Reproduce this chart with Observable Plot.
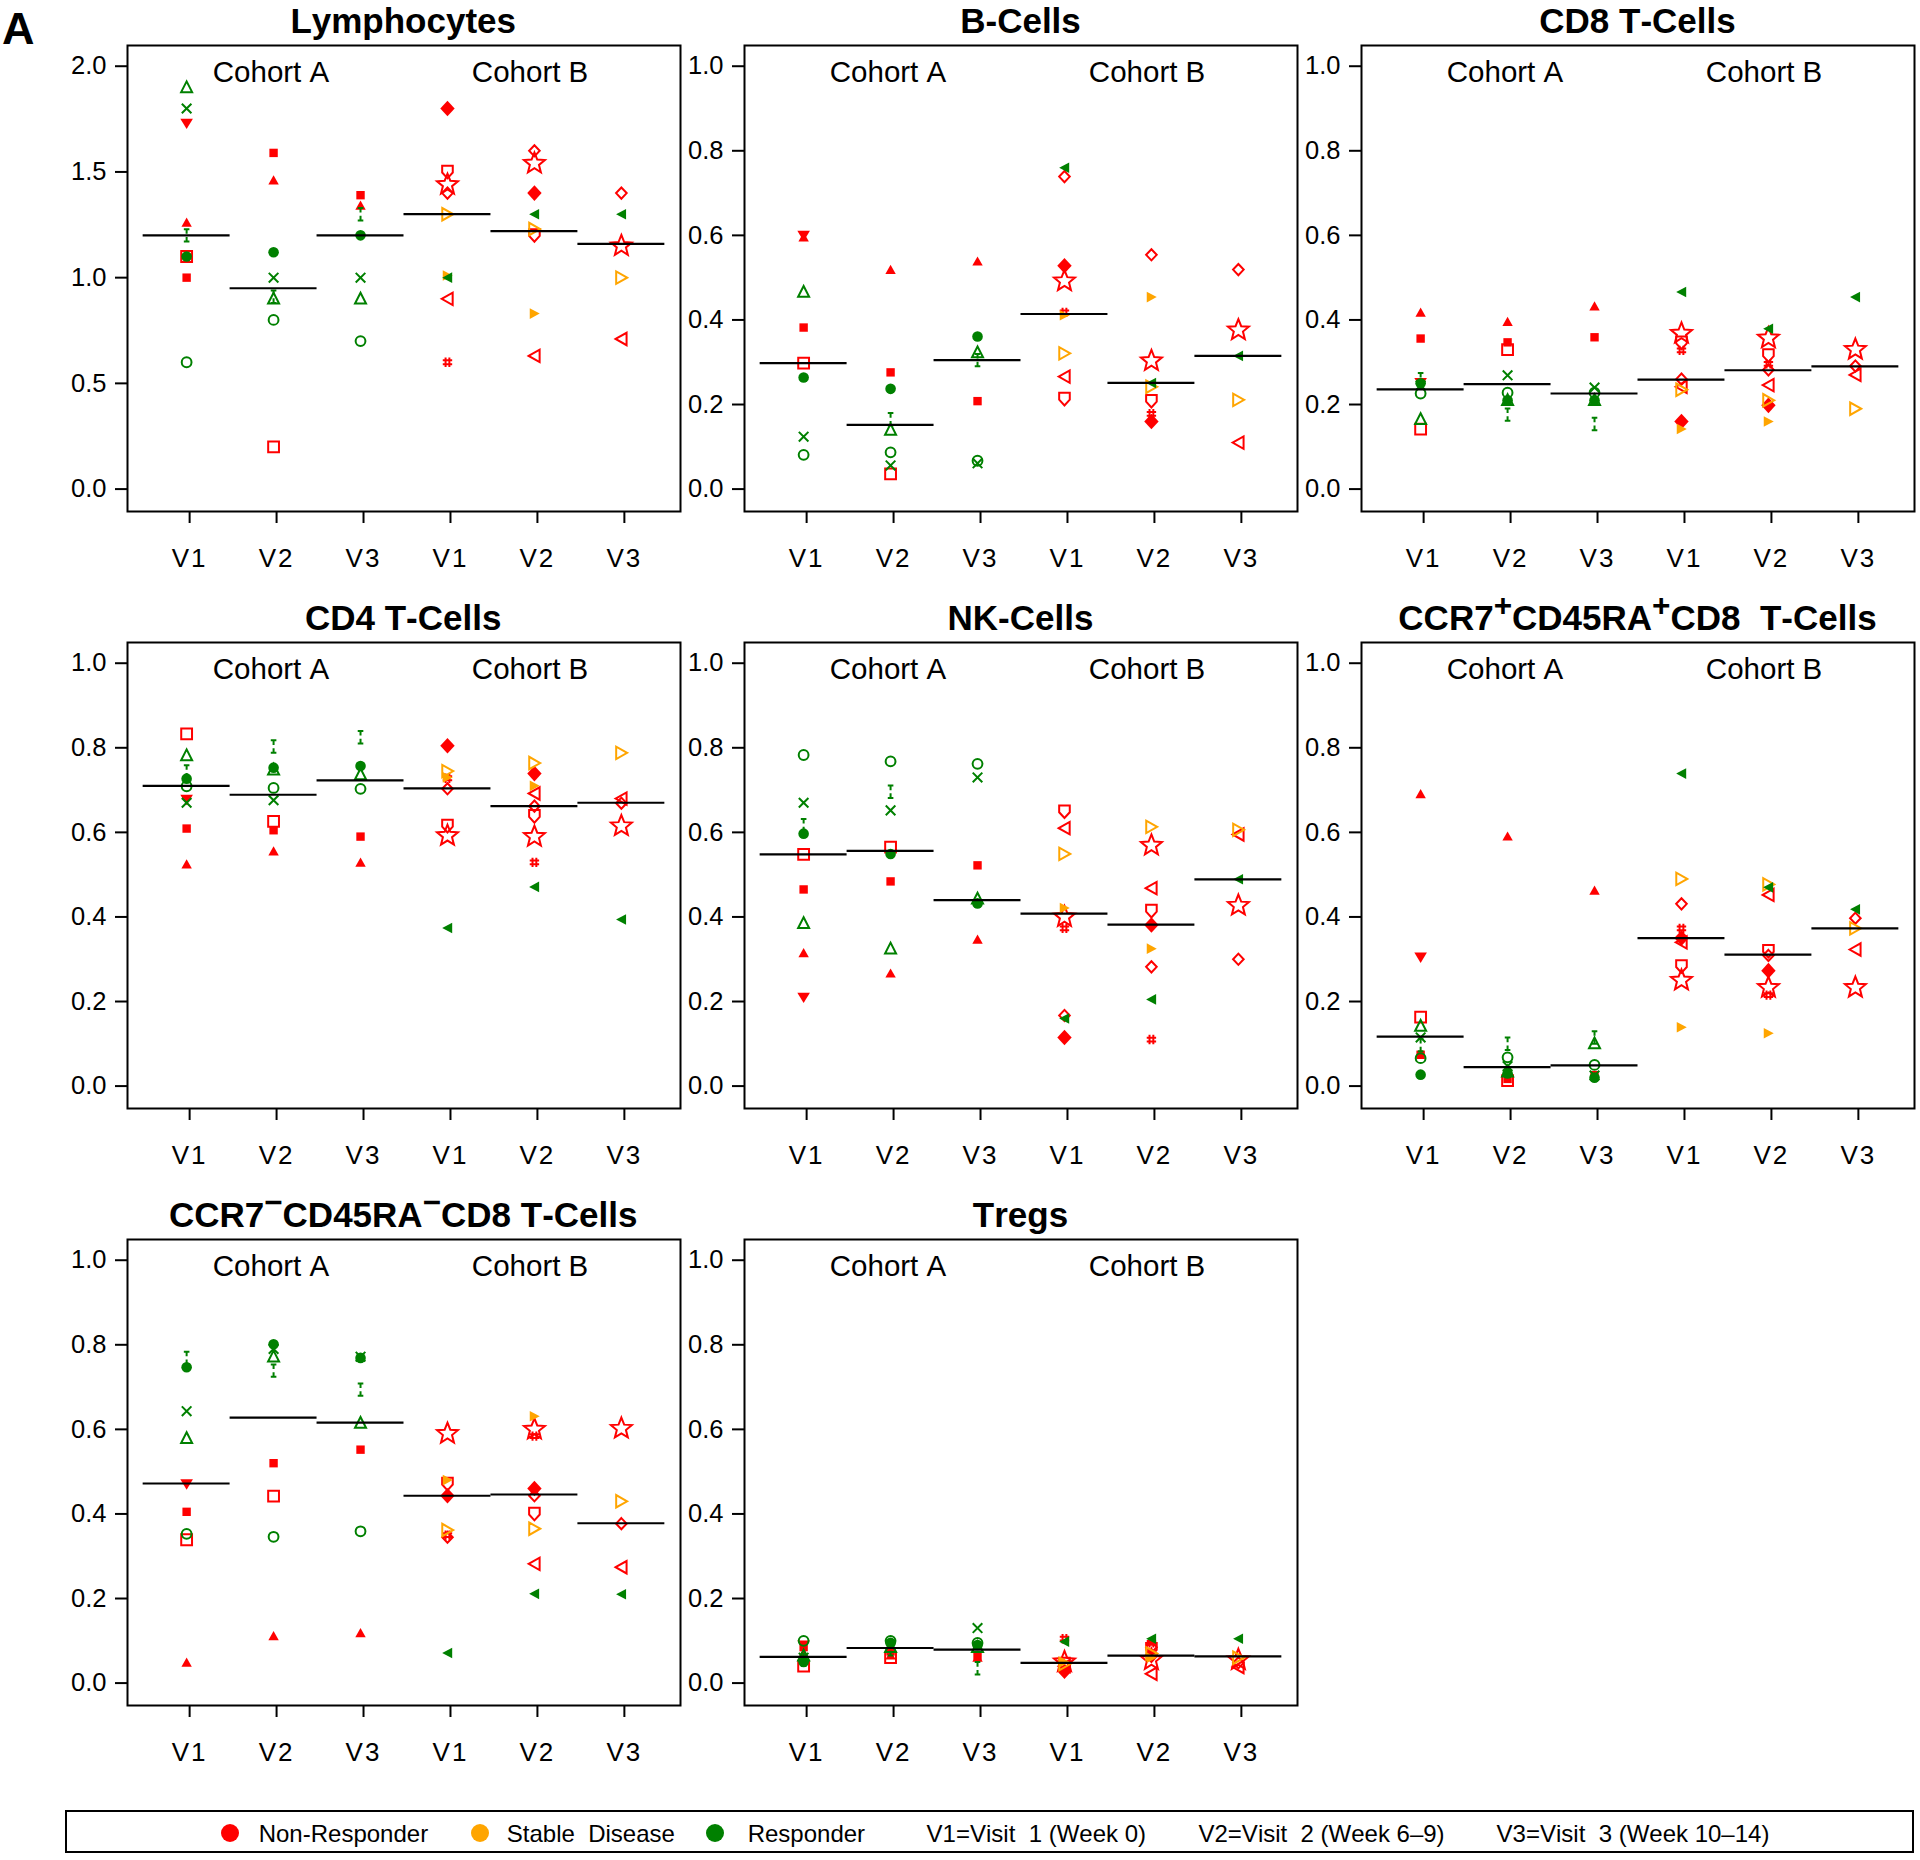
<!DOCTYPE html>
<html>
<head>
<meta charset="utf-8">
<script src="https://cdn.jsdelivr.net/npm/d3@7"></script>
<script src="https://cdn.jsdelivr.net/npm/@observablehq/plot@0.6"></script>
<style>
  body { margin: 0; background: #fff; }
  #fig { position: relative; width: 1920px; height: 1860px; background: #fff; color: #000;
         font-family: "Liberation Sans", Arial, Helvetica, sans-serif; overflow: hidden; font-kerning: none; }
  .panel { position: absolute; width: 627px; }
  .panel svg { display: block; max-width: none; font-kerning: none; }
  .title { position: absolute; width: 553px; text-align: center; font-weight: bold;
           font-size: 35px; line-height: 35px; white-space: pre; }
  .title sup { font-size: 0.9em; line-height: 0; vertical-align: 0.45em; }
  .letter { position: absolute; left: 2px; top: 6px; font-weight: bold; font-size: 45px; line-height: 45px; }
  .legend { position: absolute; left: 65px; top: 1810px; width: 1845px; height: 39px; border: 2px solid #000; }
  .lg { position: absolute; font-size: 24px; line-height: 24px; white-space: pre; top: 10px; }
  .ld { position: absolute; width: 18px; height: 18px; border-radius: 50%; top: 12px; }
</style>
</head>
<body>
<div id="fig"></div>
<script>
// ---------------- categories / labels ----------------
const visitLabels = ["V1", "V2", "V3"];
const cohortLabels = ["Cohort A", "Cohort B"];
const responseLabels = ["Non-Responder", "Stable  Disease", "Responder"];
const responseColors = ["#ff0000", "#ffa500", "#008000"];
const visitNotes = ["V1=Visit  1 (Week 0)", "V2=Visit  2 (Week 6\u20139)", "V3=Visit  3 (Week 10\u201314)"];
const panelTitles = [
  "Lymphocytes", "B-Cells", "CD8 T-Cells",
  "CD4 T-Cells", "NK-Cells", "CCR7<sup>+</sup>CD45RA<sup>+</sup>CD8  T-Cells",
  "CCR7<sup>\u2212</sup>CD45RA<sup>\u2212</sup>CD8 T-Cells", "Tregs"
];

// ---------------- patients ----------------
const patientIds      = ["a1","a2","a3","a4","a5","a6","a7","a8","a9","b1","b2","b3","b4","b5","b6","b7","b8","b9"];
const patientCohort   = [0,0,0,0,0,0,0,0,0, 1,1,1,1,1,1,1,1,1];
const patientResponse = [0,0,0,0,2,2,2,2,2, 0,0,0,0,0,0,1,1,2];
const patientMarker   = ["triUpFill","squareFill","squareOpen","triDownFill","triUpOpen","cross","circleFill","circleOpen","ibeam",
                         "diamondFill","diamondOpen","starOpen","shieldOpen","triLeftOpen","hash","triRightOpen","triRightFill","triLeftFill"];

// ---------------- values: [patient, V1, V2, V3] ----------------
const lymphocytes = [
  ["a1",1.26,1.46,1.34],["a2",1.00,1.59,1.39],["a3",1.10,0.20,null],["a4",1.73,null,null],
  ["a5",1.90,0.90,0.90],["a6",1.80,1.00,1.00],["a7",1.10,1.12,1.20],["a8",0.60,0.80,0.70],["a9",1.20,0.91,1.30],
  ["b1",1.80,1.40,null],["b2",1.40,1.60,1.40],["b3",1.44,1.54,1.15],["b4",1.50,1.20,null],["b5",0.90,0.63,0.71],
  ["b6",0.60,null,null],["b7",1.30,1.23,1.00],["b8",1.01,0.83,null],["b9",1.00,1.30,1.30]
];
const lymphocytesMedian = [1.20,0.95,1.20,1.30,1.22,1.16];

const bCells = [
  ["a1",0.595,0.518,0.538],["a2",0.382,0.276,0.208],["a3",0.298,0.036,null],["a4",0.60,null,null],
  ["a5",0.466,0.14,0.323],["a6",0.124,0.056,0.061],["a7",0.264,0.237,0.361],["a8",0.081,0.087,0.067],["a9",null,0.165,0.305],
  ["b1",0.528,0.16,null],["b2",0.739,0.554,0.519],["b3",0.492,0.303,0.376],["b4",0.213,0.208,null],["b5",0.266,null,0.110],
  ["b6",0.418,0.178,null],["b7",0.321,0.242,0.211],["b8",0.411,0.454,null],["b9",0.76,0.251,0.315]
];
const bCellsMedian = [0.298,0.152,0.305,0.414,0.251,0.315];

const cd8 = [
  ["a1",0.417,0.395,0.432],["a2",0.356,0.347,0.359],["a3",0.142,0.33,null],["a4",0.252,null,null],
  ["a5",0.165,0.21,0.21],["a6",0.245,0.269,0.24],["a7",0.25,0.21,0.21],["a8",0.226,0.228,0.228],["a9",0.26,0.176,0.154],
  ["b1",0.16,0.198,null],["b2",0.26,0.282,0.291],["b3",0.368,0.357,0.33],["b4",0.346,0.316,null],["b5",0.242,0.246,0.27],
  ["b6",0.328,0.296,null],["b7",0.235,0.21,0.19],["b8",0.142,0.16,null],["b9",0.466,0.379,0.454]
];
const cd8Median = [0.236,0.248,0.226,0.259,0.281,0.29];

const cd4 = [
  ["a1",0.524,0.555,0.528],["a2",0.609,0.605,0.59],["a3",0.833,0.626,null],["a4",0.678,null,null],
  ["a5",0.782,0.748,0.737],["a6",0.67,0.676,null],["a7",0.727,0.753,0.757],["a8",0.709,0.705,0.703],["a9",0.744,0.803,0.825],
  ["b1",0.805,0.739,null],["b2",0.703,0.662,0.669],["b3",0.592,0.59,0.615],["b4",0.615,0.638,null],["b5",null,0.692,0.68],
  ["b6",0.728,0.529,null],["b7",0.745,0.764,0.788],["b8",0.73,0.71,null],["b9",0.374,0.471,0.394]
];
const cd4Median = [0.71,0.689,0.723,0.704,0.662,0.67];

const nkCells = [
  ["a1",0.314,0.266,0.346],["a2",0.465,0.484,0.522],["a3",0.548,0.565,null],["a4",0.21,null,null],
  ["a5",0.385,0.325,0.443],["a6",0.67,0.652,0.73],["a7",0.597,0.549,0.432],["a8",0.783,0.768,0.762],["a9",0.617,0.696,null],
  ["b1",0.115,0.381,null],["b2",0.167,0.282,0.30],["b3",0.40,0.569,0.427],["b4",0.649,0.414,null],["b5",0.61,0.468,0.595],
  ["b6",0.373,0.11,null],["b7",0.549,0.613,0.606],["b8",0.421,0.325,null],["b9",0.16,0.205,0.489]
];
const nkCellsMedian = [0.548,0.556,0.44,0.408,0.382,0.489];

const ccr7pos = [
  ["a1",0.69,0.59,0.462],["a2",0.074,0.017,0.026],["a3",0.163,0.013,null],["a4",0.305,null,null],
  ["a5",0.142,0.034,0.101],["a6",0.115,0.047,0.025],["a7",0.027,0.03,0.02],["a8",0.066,0.068,0.05],["a9",0.097,0.10,0.115],
  ["b1",0.35,0.273,null],["b2",0.431,0.309,0.397],["b3",0.25,0.233,0.233],["b4",0.283,0.319,null],["b5",0.34,0.452,0.323],
  ["b6",0.373,0.215,null],["b7",0.49,0.477,0.373],["b8",0.139,0.125,null],["b9",0.739,0.47,0.418]
];
const ccr7posMedian = [0.117,0.045,0.049,0.35,0.311,0.373];

const ccr7neg = [
  ["a1",0.048,0.111,0.118],["a2",0.405,0.52,0.552],["a3",0.339,0.442,null],["a4",0.471,null,null],
  ["a5",0.579,0.772,0.615],["a6",0.643,0.79,0.772],["a7",0.747,0.801,0.769],["a8",0.353,0.346,0.359],["a9",0.769,0.739,0.694],
  ["b1",0.443,0.46,null],["b2",0.345,0.443,0.377],["b3",0.59,0.60,0.602],["b4",0.471,0.40,null],["b5",null,0.282,0.274],
  ["b6",0.35,0.584,null],["b7",0.362,0.365,0.43],["b8",0.48,0.631,null],["b9",0.071,0.211,0.21]
];
const ccr7negMedian = [0.472,0.628,0.616,0.443,0.446,0.378];

const tregs = [
  ["a1",0.07,0.065,0.06],["a2",0.085,0.075,0.065],["a3",0.04,0.06,null],["a4",0.09,null,null],
  ["a5",0.065,0.085,0.085],["a6",0.06,0.09,0.13],["a7",0.05,0.095,0.09],["a8",0.10,0.10,0.095],["a9",0.055,0.08,0.035],
  ["b1",0.028,0.065,null],["b2",0.04,0.085,0.048],["b3",0.05,0.055,0.055],["b4",0.045,0.08,null],["b5",0.04,0.022,0.038],
  ["b6",0.105,0.095,null],["b7",0.045,0.07,0.06],["b8",0.05,0.06,null],["b9",0.098,0.105,0.105]
];
const tregsMedian = [0.062,0.083,0.079,0.048,0.065,0.063];

const panelData    = [lymphocytes, bCells, cd8, cd4, nkCells, ccr7pos, ccr7neg, tregs];
const panelMedians = [lymphocytesMedian, bCellsMedian, cd8Median, cd4Median, nkCellsMedian, ccr7posMedian, ccr7negMedian, tregsMedian];
const ticksLymph = [0, 0.5, 1.0, 1.5, 2.0];
const ticksUnit  = [0, 0.2, 0.4, 0.6, 0.8, 1.0];

// ---------------- marker shapes (custom symbols) ----------------
function poly(pts) {
  return { draw(ctx) { ctx.moveTo(pts[0][0], pts[0][1]); for (let i = 1; i < pts.length; i++) ctx.lineTo(pts[i][0], pts[i][1]); ctx.closePath(); } };
}
function segs(list) {
  return { draw(ctx) { for (const [x1, y1, x2, y2] of list) { ctx.moveTo(x1, y1); ctx.lineTo(x2, y2); } } };
}
function circ(r) {
  return { draw(ctx) { ctx.moveTo(r, 0); ctx.arc(0, 0, r, 0, 2 * Math.PI); ctx.closePath(); } };
}
function star(R, r) {
  const pts = [];
  for (let i = 0; i < 10; i++) { const a = -Math.PI / 2 + i * Math.PI / 5; const q = i % 2 ? r : R; pts.push([q * Math.cos(a), q * Math.sin(a)]); }
  return poly(pts);
}
const markers = {
  triUpFill:    { sym: poly([[0,-5.2],[5.2,4],[-5.2,4]]), filled: true },
  squareFill:   { sym: poly([[-4.2,-4.2],[4.2,-4.2],[4.2,4.2],[-4.2,4.2]]), filled: true },
  squareOpen:   { sym: poly([[-5.4,-5.4],[5.4,-5.4],[5.4,5.4],[-5.4,5.4]]), filled: false },
  triDownFill:  { sym: poly([[-6.3,-4.6],[6.3,-4.6],[0,5.8]]), filled: true },
  triUpOpen:    { sym: poly([[0,-6],[5.5,4.8],[-5.5,4.8]]), filled: false },
  cross:        { sym: segs([[-4.8,-4.8,4.8,4.8],[-4.8,4.8,4.8,-4.8]]), filled: false },
  circleFill:   { sym: circ(5.3), filled: true },
  circleOpen:   { sym: circ(4.9), filled: false },
  ibeam:        { sym: segs([[-2.8,-6.2,2.8,-6.2],[0,-6.2,0,-1.6],[0,1.6,0,6.2],[-2.8,6.2,2.8,6.2]]), filled: false },
  diamondFill:  { sym: poly([[0,-7.8],[7.2,0],[0,7.8],[-7.2,0]]), filled: true },
  diamondOpen:  { sym: poly([[0,-5.6],[5.3,0],[0,5.6],[-5.3,0]]), filled: false },
  starOpen:     { sym: star(11, 4.8), filled: false },
  shieldOpen:   { sym: poly([[-5.3,-6.2],[5.3,-6.2],[5.3,0.6],[0,6.4],[-5.3,0.6]]), filled: false },
  triLeftOpen:  { sym: poly([[-5.8,0],[5.2,-6.2],[5.2,6.2]]), filled: false },
  hash:         { sym: segs([[-1.9,-4.7,-1.9,4.7],[1.9,-4.7,1.9,4.7],[-4.7,-1.9,4.7,-1.9],[-4.7,1.9,4.7,1.9]]), filled: false },
  triRightOpen: { sym: poly([[5.8,0],[-5.2,-6.2],[-5.2,6.2]]), filled: false },
  triRightFill: { sym: poly([[5.3,0],[-4.7,-5.3],[-4.7,5.3]]), filled: true },
  triLeftFill:  { sym: poly([[-5.3,0],[4.7,-5.3],[4.7,5.3]]), filled: true }
};

// ---------------- layout ----------------
const frameLeft = [126.7, 744, 1361];
const frameTop  = [45, 642, 1239];
const frameW = 553, frameH = 466;
const mL = 70, mR = 4, mT = 45, mB = 80;
const fontStack = '"Liberation Sans", Arial, Helvetica, sans-serif';

const fig = document.getElementById("fig");

const letter = document.createElement("div");
letter.className = "letter";
letter.textContent = "A";
fig.appendChild(letter);

panelData.forEach((rows, p) => {
  const col = p % 3, row = Math.floor(p / 3);
  const isLymph = p === 0;
  const yDomain = isLymph ? [-0.106, 2.098] : [-0.053, 1.049];
  const yTicks = isLymph ? ticksLymph : ticksUnit;

  // long-format points
  const pts = [];
  rows.forEach(r => {
    const idx = patientIds.indexOf(r[0]);
    for (let v = 0; v < 3; v++) {
      if (r[v + 1] != null) pts.push({ id: r[0], idx, x: patientCohort[idx] * 3 + v + 1, v: r[v + 1] });
    }
  });
  const med = panelMedians[p].map((m, i) => ({ x: i + 1, v: m }));

  const dotMarks = patientIds.map((id, idx) => {
    const mk = markers[patientMarker[idx]];
    const color = responseColors[patientResponse[idx]];
    return Plot.dot(pts.filter(d => d.id === id), {
      x: "x", y: "v", r: 5, symbol: mk.sym,
      fill: mk.filled ? color : "none",
      stroke: mk.filled ? "none" : color,
      strokeWidth: mk.filled ? 0 : 2
    });
  });

  const chart = Plot.plot({
    width: mL + frameW + mR,
    height: mT + frameH + mB,
    marginLeft: mL, marginRight: mR, marginTop: mT, marginBottom: mB,
    style: { fontFamily: fontStack, fontSize: "25px", background: "transparent", color: "#000", overflow: "visible" },
    x: { type: "linear", domain: [0.32, 6.68] },
    y: { type: "linear", domain: yDomain },
    marks: [
      ...dotMarks,
      Plot.ruleY(med, { y: "v", x1: d => d.x - 0.5, x2: d => d.x + 0.5, stroke: "#000", strokeWidth: 2.2 }),
      Plot.text(cohortLabels, { x: (d, i) => [1.97, 4.95][i], text: d => d, frameAnchor: "top", lineAnchor: "bottom", dy: 36, fontSize: 29.5, fill: "#000" }),
      Plot.axisY({ ticks: yTicks, tickSize: 12, tickPadding: 9, tickFormat: d3.format(".1f"), fontSize: 25.5, strokeWidth: 2, label: null }),
      Plot.axisX({ ticks: [1, 2, 3, 4, 5, 6], tickFormat: d => visitLabels[(d - 1) % 3], tickSize: 12, tickPadding: 25, fontSize: 26, dx: 3, strokeWidth: 2, label: null }),
      Plot.frame({ stroke: "#000", strokeWidth: 2 })
    ]
  });
  chart.querySelectorAll("g[aria-label='x-axis tick label'] text").forEach(t => t.setAttribute("letter-spacing", "2"));

  const wrap = document.createElement("div");
  wrap.className = "panel";
  wrap.style.left = (frameLeft[col] - mL) + "px";
  wrap.style.top = (frameTop[row] - mT) + "px";
  wrap.appendChild(chart);
  fig.appendChild(wrap);

  const t = document.createElement("div");
  t.className = "title";
  t.style.left = frameLeft[col] + "px";
  t.style.top = (frameTop[row] - 12 - 29.6) + "px";
  t.innerHTML = panelTitles[p];
  fig.appendChild(t);
});

// ---------------- legend ----------------
const legend = document.createElement("div");
legend.className = "legend";
fig.appendChild(legend);
const dotX = [229.5 - 65 - 2, 480 - 65 - 2, 715 - 65 - 2];
const labX = [258.7 - 65 - 2, 506.8 - 65 - 2, 747.7 - 65 - 2];
responseLabels.forEach((lab, i) => {
  const d = document.createElement("div");
  d.className = "ld";
  d.style.left = (dotX[i] - 9) + "px";
  d.style.background = responseColors[i];
  legend.appendChild(d);
  const s = document.createElement("div");
  s.className = "lg";
  s.style.left = labX[i] + "px";
  s.textContent = lab;
  legend.appendChild(s);
});
const noteX = [926.6 - 67, 1198.5 - 67, 1496.6 - 67];
visitNotes.forEach((n, i) => {
  const s = document.createElement("div");
  s.className = "lg";
  s.style.left = noteX[i] + "px";
  s.textContent = n;
  legend.appendChild(s);
});
</script>
</body>
</html>
